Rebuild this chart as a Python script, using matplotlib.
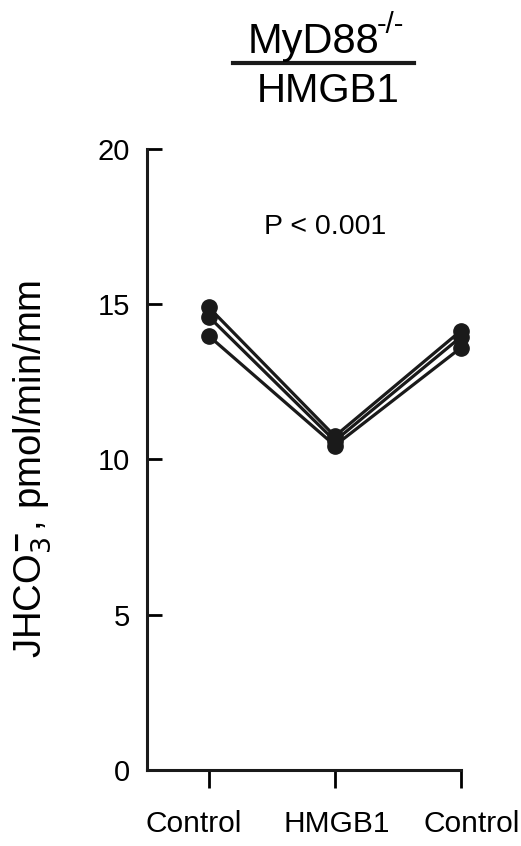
import matplotlib
matplotlib.use("Agg")
import matplotlib.pyplot as plt
import matplotlib.transforms as mtransforms
import numpy as np

plt.rcParams['font.family'] = ['Liberation Sans', 'DejaVu Sans']

# data
groups = ["Control", "HMGB1", "Control"]
mouse_a = [14.90, 10.75, 14.15]
mouse_b = [14.60, 10.60, 13.95]
mouse_c = [13.98, 10.45, 13.60]
yticks = [0, 5, 10, 15, 20]

fig = plt.figure(figsize=(5.21, 8.46), dpi=100)
ax = fig.add_axes([147/521, 1-770/846, (461-147)/521, (770-149)/846])

x = np.arange(len(groups))
for m in [mouse_a, mouse_b, mouse_c]:
    ax.plot(x, m, color="#1a1a1a", lw=2.3, marker="o", ms=11, clip_on=False, zorder=3)

ax.set_xlim(-0.49, 2.0)
ax.set_ylim(0, 20)
ax.set_yticks(yticks)
ax.set_xticks(x)
ax.set_xticklabels(groups, fontsize=21.5)
ax.tick_params(axis="y", direction="in", length=11, width=2, labelsize=21, pad=12)
ax.tick_params(axis="x", direction="out", length=13, width=2, pad=16)
# labels in the original are not centred on their ticks
for lab, dx in zip(ax.get_xticklabels(), [-15, 2, 11]):
    lab.set_transform(lab.get_transform() + mtransforms.ScaledTranslation(dx/100, 0, fig.dpi_scale_trans))
for s in ["top", "right"]:
    ax.spines[s].set_visible(False)
for s in ["left", "bottom"]:
    ax.spines[s].set_linewidth(2.2)
    ax.spines[s].set_color("#1a1a1a")

ax.set_ylabel(r"JHCO$_3^{\bf{-}}$, pmol/min/mm", fontsize=27.5)
ax.yaxis.set_label_coords(-0.30, (770-469)/621)

ax.text(0.92, 17.5, "P < 0.001", ha="center", va="center", fontsize=20.5)

# title as a fraction
fig.text(248/521, 1-53/846, "MyD88", ha="left", va="baseline", fontsize=30)
fig.text(377/521, 1-33/846, "-/-", ha="left", va="baseline", fontsize=21)
fig.text(328/521, 1-102/846, "HMGB1", ha="center", va="baseline", fontsize=29)
fig.add_artist(plt.Line2D([233/521, 414/521], [1-63/846, 1-63/846], color="#1a1a1a", lw=3))

fig.savefig("out.png", dpi=100)
